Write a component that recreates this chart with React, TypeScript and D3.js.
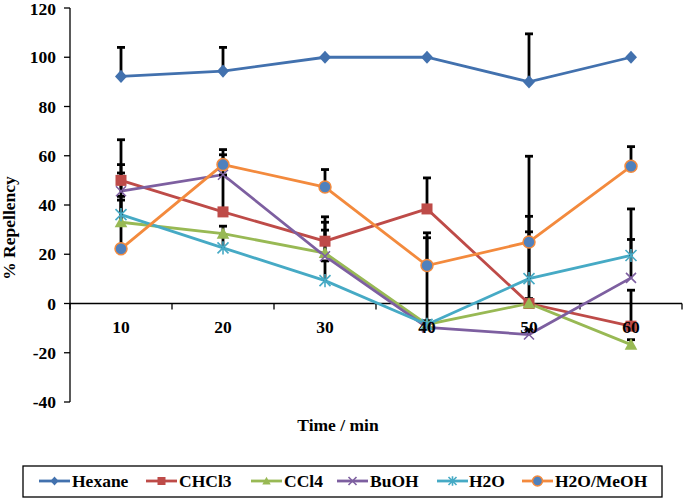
import React from "react";
import * as d3 from "d3";

const categories = ["10", "20", "30", "40", "50", "60"];
const seriesNames = ["Hexane", "CHCl3", "CCl4", "BuOH", "H2O", "H2O/MeOH"];
const hexane = [92.2, 94.4, 100, 100, 90, 100];
const chcl3 = [50, 37.2, 25.3, 38.4, 0, -9.2];
const ccl4 = [33, 28.4, 20.5, -8.5, 0, -16.7];
const buoh = [45.6, 52.3, 19.2, -9.7, -12.6, 10.4];
const h2o = [36.1, 22.6, 9.3, -8.5, 10.1, 19.5];
const h2oMeoh = [22.2, 56.4, 47.3, 15.4, 25, 55.7];
// positive error amounts
const hexaneErr = [11.8, 9.6, 0, 0, 19.5, 0];
const chcl3Err = [16.5, 15, 9.9, 12.6, 29.1, 14.6];
const ccl4Err = [9, 3, 12.5, 1.5, 2, 2];
const buohErr = [10.8, 8.1, 10.6, 1.5, 2, 15.6];
const h2oErr = [7.4, 5, 8, 35.2, 25.3, 18.9];
const h2oMeohErr = [30.8, 6.1, 7.1, 13.3, 34.8, 8];
const yTicks = [-40, -20, 0, 20, 40, 60, 80, 100, 120];

const colors = ["#4271AE", "#BE4B48", "#98B954", "#7D5FA0", "#46AAC5", "#F38A3D"];
const values = [hexane, chcl3, ccl4, buoh, h2o, h2oMeoh];
const errs = [hexaneErr, chcl3Err, ccl4Err, buohErr, h2oErr, h2oMeohErr];

const FONT = "Liberation Serif";

function Marker({ kind, x, y, s, color }: { kind: number; x: number; y: number; s: number; color: string }) {
  const h = s / 2;
  if (kind === 0) {
    return <path d={`M${x},${y - h * 1.1}L${x + h},${y}L${x},${y + h * 1.1}L${x - h},${y}Z`} fill={color} />;
  }
  if (kind === 1) {
    return <rect x={x - h} y={y - h} width={s} height={s} fill={color} />;
  }
  if (kind === 2) {
    return <path d={`M${x},${y - h * 1.05}L${x + h * 1.05},${y + h * 0.85}L${x - h * 1.05},${y + h * 0.85}Z`} fill={color} />;
  }
  if (kind === 3) {
    return (
      <path d={`M${x - h},${y - h}L${x + h},${y + h}M${x - h},${y + h}L${x + h},${y - h}`} stroke={color} strokeWidth={1.6} fill="none" />
    );
  }
  if (kind === 4) {
    return (
      <path
        d={`M${x - h},${y - h}L${x + h},${y + h}M${x - h},${y + h}L${x + h},${y - h}M${x},${y - h * 1.2}L${x},${y + h * 1.2}`}
        stroke={color}
        strokeWidth={1.6}
        fill="none"
      />
    );
  }
  return <circle cx={x} cy={y} r={h} fill="#4F81BD" stroke="#F38A3D" strokeWidth={1.5} />;
}

export default function App() {
  const W = 685;
  const H = 499;
  const x = d3.scaleBand<string>().domain(categories).range([70, 682]).paddingInner(0).paddingOuter(0);
  const y = d3.scaleLinear().domain([-40, 120]).range([402, 8]);
  const cx = (c: string) => (x(c) as number) + x.bandwidth() / 2;
  const line = d3
    .line<number>()
    .x((_, i) => cx(categories[i]))
    .y((d) => y(d));
  const boundaries = categories.map((c) => x(c) as number).concat([682]);
  const markerSizes = [12, 11, 12, 10, 11, 12];

  const legendItems = [
    { lx: 39, tx: 72 },
    { lx: 146, tx: 179 },
    { lx: 251, tx: 284 },
    { lx: 337, tx: 370 },
    { lx: 437, tx: 469 },
    { lx: 522, tx: 555 },
  ];

  const tp = { fontFamily: FONT, fontWeight: "bold" as const, fontSize: 17.5, fill: "#000" };

  return (
    <svg width={W} height={H} style={{ position: "absolute", left: 0, top: 0 }}>
      <rect x={0} y={0} width={W} height={H} fill="#fff" />
      {/* y axis */}
      <line x1={70} x2={70} y1={y(120)} y2={y(-40)} stroke="#000" strokeWidth={1.3} />
      {yTicks.map((t) => (
        <g key={t}>
          <line x1={64} x2={70} y1={y(t)} y2={y(t)} stroke="#000" strokeWidth={1.3} />
          <text x={56} y={y(t) + (t === 120 ? 1 : 0)} dy="0.35em" textAnchor="end" {...tp}>
            {t}
          </text>
        </g>
      ))}
      {/* x axis */}
      <line x1={70} x2={682} y1={y(0)} y2={y(0)} stroke="#000" strokeWidth={1.3} />
      {boundaries.map((b, i) => (
        <line key={i} x1={b} x2={b} y1={y(0)} y2={y(0) + 6} stroke="#000" strokeWidth={1.3} />
      ))}
      {/* series lines */}
      {values.map((v, si) => (
        <path key={si} d={line(v) || ""} fill="none" stroke={colors[si]} strokeWidth={2.8} />
      ))}
      {/* error bars */}
      {values.map((v, si) =>
        v.map((val, i) =>
          errs[si][i] > 0 ? (
            <g key={`${si}-${i}`}>
              <line x1={cx(categories[i])} x2={cx(categories[i])} y1={y(val)} y2={y(val + errs[si][i])} stroke="#000" strokeWidth={2.8} />
              <line x1={cx(categories[i]) - 4} x2={cx(categories[i]) + 4} y1={y(val + errs[si][i])} y2={y(val + errs[si][i])} stroke="#000" strokeWidth={2.8} />
            </g>
          ) : null
        )
      )}
      {/* markers */}
      {values.map((v, si) =>
        v.map((val, i) => (
          <Marker key={`m${si}-${i}`} kind={si} x={cx(categories[i])} y={y(val)} s={markerSizes[si]} color={colors[si]} />
        ))
      )}
      {/* x tick labels */}
      {categories.map((c) => (
        <text key={c} x={cx(c)} y={327} dy="0.35em" textAnchor="middle" {...tp}>
          {c}
        </text>
      ))}
      {/* axis titles */}
      <text transform={`translate(15,228) rotate(-90)`} textAnchor="middle" {...tp}>
        % Repellency
      </text>
      <text x={338} y={425} dy="0.35em" textAnchor="middle" {...tp}>
        Time / min
      </text>
      {/* legend */}
      <rect x={23} y={466} width={639} height={31} fill="#fff" stroke="#000" strokeWidth={1.3} />
      {seriesNames.map((n, si) => (
        <g key={n}>
          <line x1={legendItems[si].lx} x2={legendItems[si].lx + 31} y1={481} y2={481} stroke={colors[si]} strokeWidth={2.8} />
          <Marker kind={si} x={legendItems[si].lx + 15.5} y={481} s={si === 5 ? 10 : 8} color={colors[si]} />
          <text x={legendItems[si].tx} y={481} dy="0.35em" {...tp}>
            {n}
          </text>
        </g>
      ))}
    </svg>
  );
}
